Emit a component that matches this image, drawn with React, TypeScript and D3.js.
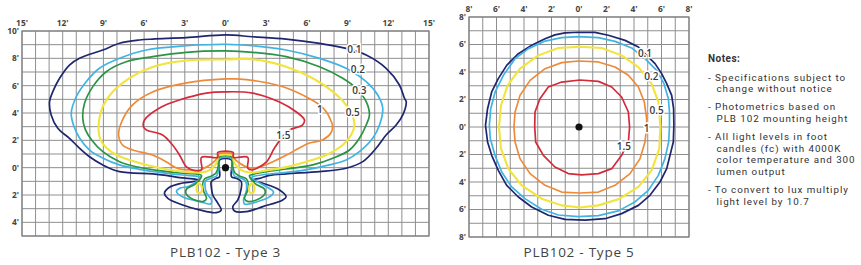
import React from "react";
import * as d3 from "d3";

type Pt = [number, number];

const levelNames = ["0.1", "0.2", "0.3", "0.5", "1", "1.5"];
const levelColors = ["#1f2670", "#3fb4e4", "#2a9445", "#f1e43c", "#ee8a38", "#d42a3a"];
const levelWidths = [1.7, 1.7, 1.7, 2.1, 1.7, 1.7];

const type3XTicks = [-15, -12, -9, -6, -3, 0, 3, 6, 9, 12, 15];
const type3YTicks = [10, 8, 6, 4, 2, 0, -2, -4];
const type5XTicks = [-8, -6, -4, -2, 0, 2, 4, 6, 8];
const type5YTicks = [8, 6, 4, 2, 0, -2, -4, -6, -8];

// Type 3 contours (feet)
const t3_01: Pt[] = [
  [0, 9.71], [-2.9, 9.51], [-5.36, 9.41], [-6.34, 9.34], [-7.81, 9.1], [-9.04, 8.61], [-10.76, 8.0], [-11.5, 7.51],
  [-12.23, 6.54], [-12.73, 5.56], [-12.97, 4.83], [-12.85, 3.86], [-12.36, 2.88], [-11.5, 2.15], [-10.88, 1.54],
  [-10.02, 0.8], [-9.04, 0.2], [-7.81, -0.29], [-5.36, -0.45], [-4.37, -0.57], [-3.39, -0.73], [-2.16, -0.85], [-1.92, -0.94],
  [-3.26, -1.14], [-4.13, -1.43], [-4.5, -1.87], [-4.25, -2.24], [-3.15, -2.73], [-1.92, -3.09], [-0.69, -3.29],
  [-0.32, -3.09], [-0.57, -2.6], [-0.94, -2.0], [-1.05, -1.39], [-1.05, -1.02], [-0.69, -0.78], [-0.44, -0.66], [-0.44, 0.56],
  [0.44, 0.56], [0.44, -0.66], [0.79, -0.78], [1.16, -1.02], [1.16, -1.51], [0.91, -2.36], [0.54, -2.85], [0.66, -3.17],
  [1.53, -3.22], [2.75, -2.85], [4.22, -2.36], [4.47, -2.12], [3.98, -1.63], [2.75, -1.14], [2.01, -0.9],
  [2.51, -0.78], [3.24, -0.57], [4.47, -0.45], [6.93, -0.29], [8.89, -0.04], [10.12, 0.44], [11.1, 1.42], [11.84, 2.39],
  [12.58, 3.12], [13.07, 3.86], [13.32, 4.83], [13.19, 5.08], [12.82, 6.05], [11.84, 7.27], [10.37, 8.24], [8.89, 8.73],
  [6.93, 9.1], [4.47, 9.41], [1.99, 9.58],
];

const t3_02: Pt[] = [
  [0, 9.03], [-2.9, 8.92], [-5.84, 8.61], [-7.81, 8.0], [-9.29, 7.27], [-10.27, 6.29], [-11.0, 5.19], [-11.37, 3.98],
  [-11.2, 3.1], [-10.76, 2.17], [-10.02, 1.29], [-9.06, 0.71], [-7.81, 0.2], [-6.34, -0.12], [-4.86, -0.34],
  [-3.39, -0.52], [-2.16, -0.62], [-1.84, -0.72],
  [-2.65, -1.34], [-3.39, -1.51], [-3.61, -1.76], [-3.15, -2.14], [-1.92, -2.47], [-1.11, -2.66], [-1.03, -2.36],
  [-1.4, -1.85], [-1.51, -1.34], [-1.47, -0.97], [-1.03, -0.75], [-0.66, -0.61], [-0.5, -0.17], [-0.47, 0.66],
  [0.47, 0.66], [0.5, -0.17], [0.66, -0.61], [1.11, -0.75], [1.47, -0.97], [1.55, -1.63], [1.33, -2.36], [1.4, -2.66],
  [2.28, -2.51], [3.24, -2.14], [3.54, -1.78], [2.8, -1.27], [1.92, -0.72],
  [2.75, -0.52], [3.98, -0.4], [5.7, -0.2], [7.66, 0.2], [8.89, 0.56], [9.87, 1.17], [10.85, 2.15], [11.35, 3.12],
  [11.59, 4.35], [11.22, 5.32], [10.37, 6.29], [8.89, 7.27], [6.93, 8.0], [4.47, 8.61], [2.01, 8.92],
];

const t3_03: Pt[] = [
  [0, 8.54], [-2.9, 8.44], [-5.36, 8.12], [-7.32, 7.75], [-8.79, 7.02], [-9.78, 5.93], [-10.39, 4.71], [-10.52, 3.61],
  [-10.32, 2.76], [-9.87, 2.03], [-9.04, 1.17], [-7.81, 0.44], [-6.58, 0.07], [-4.86, -0.22], [-3.39, -0.39],
  [-2.06, -0.48], [-1.77, -0.58],
  [-2.21, -1.19], [-2.87, -1.56], [-2.9, -1.92], [-2.36, -2.33], [-1.62, -2.47], [-1.4, -2.25], [-1.62, -1.7],
  [-1.69, -1.27], [-1.55, -0.83], [-1.03, -0.61], [-0.7, -0.39], [-0.52, 0.12], [-0.5, 0.76],
  [0.5, 0.76], [0.52, 0.12], [0.7, -0.39], [1.03, -0.61], [1.55, -0.83], [1.69, -1.27], [1.62, -1.7], [1.4, -2.25],
  [1.62, -2.47], [2.36, -2.33], [2.9, -1.92], [2.87, -1.56], [2.21, -1.19], [1.77, -0.58],
  [2.06, -0.48], [3.0, -0.3], [4.47, -0.1], [6.43, 0.2], [7.91, 0.69], [9.14, 1.29], [9.87, 2.15], [10.37, 3.12],
  [10.61, 3.86], [10.37, 4.83], [9.63, 5.81], [8.64, 6.54], [6.93, 7.39], [4.47, 8.12], [2.01, 8.44],
];

const t3_05: Pt[] = [
  [0, 7.92], [-2.87, 7.84], [-5.38, 7.37], [-7.07, 6.56], [-8.33, 5.54], [-9.06, 4.44], [-9.29, 3.64], [-9.36, 2.76],
  [-9.21, 2.03], [-8.77, 1.44], [-8.03, 0.93], [-7.07, 0.56], [-5.82, 0.2], [-4.64, -0.06], [-3.39, -0.26],
  [-2.14, -0.35], [-1.4, -0.28], [-0.88, 0.05], [-0.6, 0.5], [-0.52, 0.88],
  [0.52, 0.88], [0.6, 0.5], [0.88, 0.05], [1.4, -0.28], [2.14, -0.35], [3.0, -0.2], [4.47, 0.04], [5.95, 0.44],
  [7.42, 0.93], [8.64, 1.66], [9.26, 2.39], [9.51, 3.12], [9.38, 3.73], [8.89, 4.59], [7.91, 5.56], [6.43, 6.54],
  [4.47, 7.39], [2.01, 7.93],
];
const t3_05LobeL: Pt[] = [[-1.99, -1.12], [-1.77, -1.34], [-1.77, -1.78], [-1.99, -1.85], [-2.14, -1.56]];
const t3_05LobeR: Pt[] = [[1.99, -1.12], [1.77, -1.34], [1.77, -1.78], [1.99, -1.85], [2.14, -1.56]];

const t3_1: Pt[] = [
  [0, 6.49], [-2.87, 6.2], [-5.38, 5.54], [-6.85, 4.59], [-7.66, 3.34], [-7.88, 2.39], [-7.59, 1.66], [-6.85, 1.29],
  [-5.38, 0.93], [-4.35, 0.42], [-3.61, -0.02], [-2.65, -0.17], [-1.92, -0.17], [-0.96, 0.34], [-0.62, 0.72], [-0.54, 0.99],
  [0.54, 0.99], [0.62, 0.72], [1.03, 0.34], [1.77, -0.02], [2.5, 0.05], [3.46, 0.42], [4.5, 0.93], [5.45, 1.44],
  [6.19, 1.8], [7.15, 2.03], [7.81, 2.61], [7.88, 3.12], [7.81, 3.34], [7.44, 4.07], [6.93, 4.59], [5.97, 5.17],
  [4.5, 5.83], [2.73, 6.27], [0.81, 6.49],
];

const t3_15: Pt[] = [
  [0, 5.55], [-1.4, 5.46], [-3.4, 4.95], [-4.86, 4.37], [-5.97, 3.49], [-6.04, 2.98], [-5.82, 2.76], [-4.64, 2.39],
  [-3.9, 1.66], [-3.39, 0.93], [-2.87, 0.05], [-2.43, -0.17], [-1.77, -0.17], [-1.77, 0.76], [-0.57, 0.76], [-0.57, 1.11],
  [0.57, 1.11], [0.57, 0.76], [1.64, 0.76], [1.64, -0.02], [1.92, -0.17], [2.36, -0.02], [3.02, 0.42], [3.61, 1.44],
  [4.2, 2.25], [4.72, 2.76], [5.67, 3.12], [5.82, 3.49], [5.23, 4.07], [3.98, 4.8], [1.99, 5.46],
];

// Type 5 contours (feet)
const t5_01: Pt[] = [
  [-1.02, 6.85], [-0.05, 6.89], [1.16, 6.88], [2.13, 6.67], [3.35, 6.3], [4.32, 5.82], [4.92, 5.21], [5.53, 4.61],
  [6.01, 3.88], [6.38, 3.15], [6.74, 2.3], [6.88, 1.33], [6.9, 0.12], [6.86, -1.09], [6.62, -2.06], [6.38, -3.03],
  [5.89, -4.0], [5.16, -4.97], [4.32, -5.7], [3.1, -6.3], [1.89, -6.67], [0.44, -6.77], [-1.02, -6.72], [-2.23, -6.42],
  [-3.44, -5.82], [-4.41, -5.09], [-5.26, -4.24], [-5.87, -3.15], [-6.35, -2.06], [-6.65, -1.09], [-6.8, 0.12],
  [-6.65, 1.33], [-6.35, 2.55], [-5.87, 3.52], [-5.26, 4.48], [-4.41, 5.33], [-3.44, 5.94], [-2.47, 6.42], [-1.75, 6.7],
];
const t5_02: Pt[] = [
  [-0.05, 6.57], [1.41, 6.5], [2.62, 6.23], [3.83, 5.75], [4.8, 4.97], [5.65, 4.12], [6.18, 3.15], [6.5, 2.06],
  [6.58, 1.09], [6.58, 0], [6.52, -1.09], [6.25, -2.3], [5.77, -3.52], [5.04, -4.61], [4.07, -5.45], [2.86, -6.1],
  [1.41, -6.45], [-0.05, -6.52], [-1.5, -6.4], [-2.72, -5.98], [-3.93, -5.21], [-4.9, -4.36], [-5.62, -3.27],
  [-6.11, -2.06], [-6.45, -0.85], [-6.52, 0.12], [-6.42, 1.33], [-6.1, 2.55], [-5.5, 3.76], [-4.65, 4.97],
  [-3.68, 5.7], [-2.47, 6.25], [-1.26, 6.5],
];
const t5_05: Pt[] = [
  [0.07, 5.84], [1.65, 5.75], [3.1, 5.21], [4.32, 4.36], [5.28, 3.15], [5.77, 1.82], [5.92, 0], [5.84, -1.58],
  [5.28, -3.15], [4.32, -4.36], [2.86, -5.26], [1.41, -5.7], [0.07, -5.85], [-1.26, -5.7], [-2.72, -5.21],
  [-4.17, -4.24], [-5.14, -3.03], [-5.67, -1.58], [-5.82, 0], [-5.67, 1.58], [-5.19, 3.03], [-4.29, 4.24],
  [-2.96, 5.21], [-1.5, 5.75],
];
const t5_1: Pt[] = [
  [-0.05, 4.8], [1.41, 4.73], [2.62, 4.36], [3.59, 3.76], [4.32, 2.91], [4.75, 1.82], [4.92, 0.61], [4.92, 0],
  [4.8, -1.09], [4.44, -2.3], [3.71, -3.39], [2.62, -4.24], [1.41, -4.73], [0.07, -4.8], [-1.26, -4.73], [-2.47, -4.24],
  [-3.56, -3.39], [-4.29, -2.3], [-4.65, -1.09], [-4.73, 0], [-4.65, 1.09], [-4.29, 2.3], [-3.56, 3.39], [-2.47, 4.24],
  [-1.26, 4.68],
];
const t5_15: Pt[] = [
  [0.07, 3.42], [1.41, 3.32], [2.38, 2.91], [3.1, 2.18], [3.59, 1.09], [3.68, 0], [3.59, -1.09], [3.1, -2.06],
  [2.38, -3.03], [1.41, -3.39], [0.19, -3.48], [-0.78, -3.39], [-1.75, -2.91], [-2.59, -2.06], [-3.15, -1.09],
  [-3.22, 0], [-3.2, 1.09], [-2.84, 2.06], [-2.23, 2.91], [-1.26, 3.27],
];

const type3LabelPos: Pt[] = [[9.5, 8.65], [9.75, 7.15], [9.87, 5.68], [9.38, 4.04], [6.96, 4.22], [4.27, 2.39]];
const type5LabelPos: Pt[] = [[4.8, 5.35], [5.27, 3.64], [5.65, 1.2], [4.92, -0.12], [3.27, -1.45]];
const type5LevelIdx = [0, 1, 3, 4, 5];

const notesTitle = "Notes:";
const notesLines: { text: string; indent: boolean; gap: boolean }[] = [
  { text: "- Specifications subject to", indent: false, gap: true },
  { text: "change without notice", indent: true, gap: false },
  { text: "- Photometrics based on", indent: false, gap: true },
  { text: "PLB 102 mounting height", indent: true, gap: false },
  { text: "- All light levels in foot", indent: false, gap: true },
  { text: "candles (fc) with 4000K", indent: true, gap: false },
  { text: "color temperature and 300", indent: true, gap: false },
  { text: "lumen output", indent: true, gap: false },
  { text: "- To convert to lux multiply", indent: false, gap: true },
  { text: "light level by 10.7", indent: true, gap: false },
];

const FONT = "'Open Sans', 'DejaVu Sans', sans-serif";
const NOTE_FONT = "Roboto, 'Liberation Sans', sans-serif";

function Panel(props: {
  xs: d3.ScaleLinear<number, number>;
  ys: d3.ScaleLinear<number, number>;
  xTicks: number[];
  yTicks: number[];
  xTickY: number;
  contours: { pts: Pt[]; level: number }[];
  labels: { pos: Pt; level: number }[];
  title: string;
  curve: any;
}) {
  const { xs, ys, xTicks, yTicks, xTickY, contours, labels, title, curve } = props;
  const [x0, x1] = xs.domain();
  const [y1, y0] = ys.domain();
  const gx = d3.range(Math.ceil(x0), Math.floor(x1) + 1);
  const gy = d3.range(Math.ceil(y0), Math.floor(y1) + 1);
  const line = d3
    .line<Pt>()
    .x((d) => xs(d[0]))
    .y((d) => ys(d[1]))
    .curve(curve);
  return (
    <g>
      <rect x={xs(x0)} y={ys(y1)} width={xs(x1) - xs(x0)} height={ys(y0) - ys(y1)} fill="#fff" />
      {gx.map((v) => (
        <line key={"gx" + v} x1={xs(v)} x2={xs(v)} y1={ys(y0)} y2={ys(y1)} stroke="#8e8e8e" strokeWidth={1} />
      ))}
      {gy.map((v) => (
        <line key={"gy" + v} y1={ys(v)} y2={ys(v)} x1={xs(x0)} x2={xs(x1)} stroke="#8e8e8e" strokeWidth={1} />
      ))}
      <rect x={xs(x0)} y={ys(y1)} width={xs(x1) - xs(x0)} height={ys(y0) - ys(y1)} fill="none" stroke="#808080" strokeWidth={1.2} />
      {contours.map((c, i) => (
        <path
          key={"c" + i}
          d={line(c.pts) || ""}
          fill="none"
          stroke={levelColors[c.level]}
          strokeWidth={levelWidths[c.level]}
          strokeLinejoin="round"
        />
      ))}
      {labels.map((l, i) => (
        <text
          key={"l" + i}
          x={xs(l.pos[0])}
          y={ys(l.pos[1])}
          dy="0.35em"
          textAnchor="middle"
          fontFamily={FONT}
          fontSize={10}
          fontWeight={600}
          fill="#3a3a3a"
          stroke="#fff"
          strokeWidth={3}
          paintOrder="stroke"
        >
          {levelNames[l.level]}
        </text>
      ))}
      <circle cx={xs(0)} cy={ys(0)} r={3.6} fill="#111" />
      {xTicks.map((v) => (
        <text
          key={"xt" + v}
          x={xs(v)}
          y={xTickY}
          dy="0.35em"
          textAnchor="middle"
          fontFamily={FONT}
          fontSize={8.4}
          fontWeight={700}
          fill="#444"
        >
          {Math.abs(v) + "'"}
        </text>
      ))}
      {yTicks.map((v) => (
        <text
          key={"yt" + v}
          x={xs(x0) - 3}
          y={ys(v)}
          dy="0.35em"
          textAnchor="end"
          fontFamily={FONT}
          fontSize={8.4}
          fontWeight={700}
          fill="#444"
        >
          {Math.abs(v) + "'"}
        </text>
      ))}
      <text
        x={(xs(x0) + xs(x1)) / 2}
        y={257}
        textAnchor="middle"
        fontFamily={FONT}
        fontSize={13.5}
        letterSpacing={0.75}
        fill="#444"
      >
        {title}
      </text>
    </g>
  );
}

export default function App() {
  const x3 = d3.scaleLinear().domain([-15, 15]).range([22, 429]);
  const y3 = d3.scaleLinear().domain([10, -5]).range([31, 236]);
  const x5 = d3.scaleLinear().domain([-8, 8]).range([469, 689]);
  const y5 = d3.scaleLinear().domain([8, -8]).range([17, 237]);

  const c3 = [
    { pts: t3_01, level: 0 },
    { pts: t3_02, level: 1 },
    { pts: t3_03, level: 2 },
    { pts: t3_05, level: 3 },
    { pts: t3_05LobeL, level: 3 },
    { pts: t3_05LobeR, level: 3 },
    { pts: t3_1, level: 4 },
    { pts: t3_15, level: 5 },
  ];
  const c5 = [t5_01, t5_02, t5_05, t5_1, t5_15].map((pts, i) => ({ pts, level: type5LevelIdx[i] }));
  const l3 = type3LabelPos.map((pos, i) => ({ pos, level: i }));
  const l5 = type5LabelPos.map((pos, i) => ({ pos, level: type5LevelIdx[i] }));

  let yy = 80.5;
  const noteYs: number[] = [];
  notesLines.forEach((l, i) => {
    if (i > 0) yy += l.gap ? 18 : 11.7;
    noteYs.push(yy);
  });

  return (
    <svg width={861} height={265} style={{ position: "absolute", left: 0, top: 0, background: "#fff" }}>
      <rect width={861} height={265} fill="#fff" />
      <Panel
        xs={x3}
        ys={y3}
        xTicks={type3XTicks}
        yTicks={type3YTicks}
        xTickY={23.5}
        contours={c3}
        labels={l3}
        title="PLB102 - Type 3"
        curve={d3.curveCatmullRomClosed.alpha(0.5)}
      />
      <Panel
        xs={x5}
        ys={y5}
        xTicks={type5XTicks}
        yTicks={type5YTicks}
        xTickY={9}
        contours={c5}
        labels={l5}
        title="PLB102 - Type 5"
        curve={d3.curveLinearClosed}
      />
      <text x={708} y={61.5} fontFamily={NOTE_FONT} fontSize={10} fontWeight={700} letterSpacing={0.5} fill="#333">
        {notesTitle}
      </text>
      {notesLines.map((l, i) => (
        <text
          key={"n" + i}
          x={l.indent ? 716.5 : 708}
          y={noteYs[i]}
          fontFamily={NOTE_FONT}
          fontSize={9.8}
          letterSpacing={0.95}
          fill="#333"
        >
          {l.text}
        </text>
      ))}
    </svg>
  );
}
